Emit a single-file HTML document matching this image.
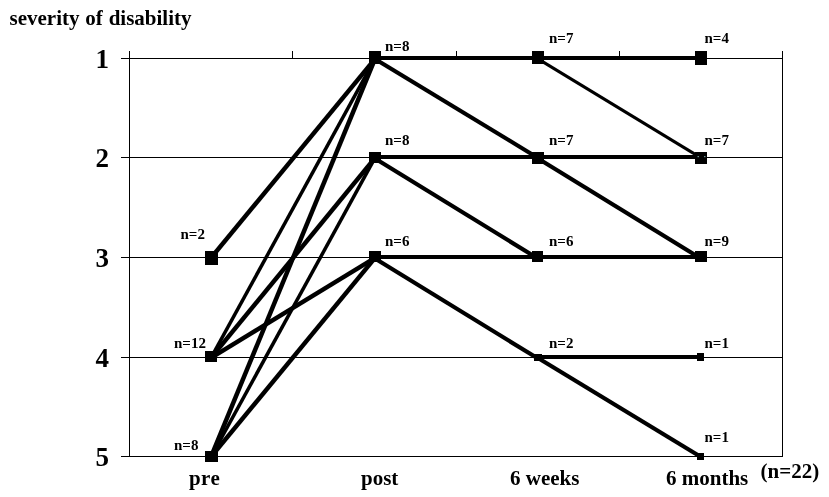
<!DOCTYPE html>
<html><head><meta charset="utf-8"><title>severity of disability</title>
<style>
html,body{margin:0;padding:0;background:#fff;}
body{width:829px;height:497px;overflow:hidden;position:relative;}
svg{position:absolute;left:0;top:0;display:block;}
text{font-family:"Liberation Serif","DejaVu Serif",serif;font-weight:bold;fill:#000;}
.t{font-size:21px;}
.y{font-size:27px;}
.n{font-size:15px;}
</style></head><body>
<svg width="829" height="497" viewBox="0 0 829 497">
<rect width="829" height="497" fill="#fff"/>
<g stroke="#000" stroke-width="1" fill="none" shape-rendering="crispEdges">
<line x1="121" y1="58.5" x2="783.0" y2="58.5"/>
<line x1="121" y1="157.5" x2="783.0" y2="157.5"/>
<line x1="121" y1="257.5" x2="783.0" y2="257.5"/>
<line x1="121" y1="357.5" x2="783.0" y2="357.5"/>
<line x1="121" y1="456.5" x2="783.0" y2="456.5"/>
<line x1="129.5" y1="51" x2="129.5" y2="457.0"/>
<line x1="782.5" y1="51" x2="782.5" y2="457.0"/>
<line x1="292.5" y1="51" x2="292.5" y2="58"/>
<line x1="456.5" y1="51" x2="456.5" y2="58"/>
<line x1="619.5" y1="51" x2="619.5" y2="58"/>
</g>
<g stroke="#000" stroke-linecap="butt">
<line x1="211" y1="257.9" x2="375" y2="58.9" stroke-width="4.5"/>
<line x1="211" y1="357.9" x2="375" y2="58.9" stroke-width="3.5"/>
<line x1="211" y1="357.9" x2="375" y2="157.9" stroke-width="4.5"/>
<line x1="211" y1="357.9" x2="375" y2="257.9" stroke-width="4.5"/>
<line x1="211" y1="456.9" x2="375" y2="58.9" stroke-width="4.5"/>
<line x1="211" y1="456.9" x2="375" y2="157.9" stroke-width="3.5"/>
<line x1="211" y1="456.9" x2="375" y2="257.9" stroke-width="4.5"/>
<line x1="375" y1="58.0" x2="538" y2="58.0" stroke-width="4"/>
<line x1="375" y1="58.9" x2="538" y2="157.9" stroke-width="4.15"/>
<line x1="375" y1="157.0" x2="538" y2="157.0" stroke-width="4"/>
<line x1="375" y1="158.6" x2="538" y2="258.6" stroke-width="4.15"/>
<line x1="375" y1="257.0" x2="538" y2="257.0" stroke-width="4"/>
<line x1="375" y1="258.6" x2="538" y2="358.6" stroke-width="4.15"/>
<line x1="538" y1="58.0" x2="701" y2="58.0" stroke-width="4"/>
<line x1="538" y1="58.9" x2="701" y2="157.9" stroke-width="3.0"/>
<line x1="538" y1="157.0" x2="701" y2="157.0" stroke-width="4"/>
<line x1="538" y1="158.6" x2="701" y2="258.6" stroke-width="4.15"/>
<line x1="538" y1="257.0" x2="701" y2="257.0" stroke-width="4"/>
<line x1="538" y1="357.0" x2="701" y2="357.0" stroke-width="4"/>
<line x1="538" y1="357.9" x2="701" y2="456.9" stroke-width="4.15"/>
</g>
<g fill="#000" shape-rendering="crispEdges">
<rect x="205" y="251" width="13" height="14"/>
<rect x="205" y="351" width="12" height="11"/>
<rect x="205" y="451" width="13" height="11"/>
<rect x="369" y="51" width="12" height="13"/>
<rect x="369" y="152" width="12" height="11"/>
<rect x="369" y="251" width="12" height="11"/>
<rect x="532" y="51" width="12" height="13"/>
<rect x="532" y="152" width="12" height="12"/>
<rect x="532" y="251" width="11" height="11"/>
<rect x="534" y="354" width="8" height="7"/>
<rect x="695" y="51" width="12" height="14"/>
<rect x="695" y="152" width="12" height="12"/>
<rect x="695" y="251" width="12" height="11"/>
<rect x="697" y="353" width="7" height="8"/>
<rect x="697" y="453" width="7" height="7"/>
</g>
<rect x="697.5" y="156" width="1.5" height="1.2" fill="#6f8f8f"/><rect x="704" y="156" width="1.5" height="1.2" fill="#6f8f8f"/>
<text class="t" x="9.5" y="24.7" word-spacing="0.6">severity of disability</text>
<text class="y" x="95.4" y="67.5">1</text>
<text class="y" x="95.4" y="166.5">2</text>
<text class="y" x="95.4" y="266.5">3</text>
<text class="y" x="95.4" y="366.5">4</text>
<text class="y" x="95.4" y="465.5">5</text>
<text class="n" x="180.5" y="239">n=2</text>
<text class="n" x="174" y="347.5">n=12</text>
<text class="n" x="174" y="449.5">n=8</text>
<text class="n" x="385" y="50.5">n=8</text>
<text class="n" x="385" y="145">n=8</text>
<text class="n" x="385" y="245.5">n=6</text>
<text class="n" x="549" y="43">n=7</text>
<text class="n" x="549" y="145">n=7</text>
<text class="n" x="549" y="245.5">n=6</text>
<text class="n" x="549" y="347.5">n=2</text>
<text class="n" x="704.5" y="43">n=4</text>
<text class="n" x="704.5" y="145">n=7</text>
<text class="n" x="704.5" y="245.5">n=9</text>
<text class="n" x="704.5" y="347.5">n=1</text>
<text class="n" x="704.5" y="442">n=1</text>
<text class="t" x="189" y="485" letter-spacing="0.4">pre</text>
<text class="t" x="361" y="485">post</text>
<text class="t" x="510" y="485">6 weeks</text>
<text class="t" x="666" y="485">6 months</text>
<text class="t" x="760.5" y="478">(n=22)</text>
</svg></body></html>
